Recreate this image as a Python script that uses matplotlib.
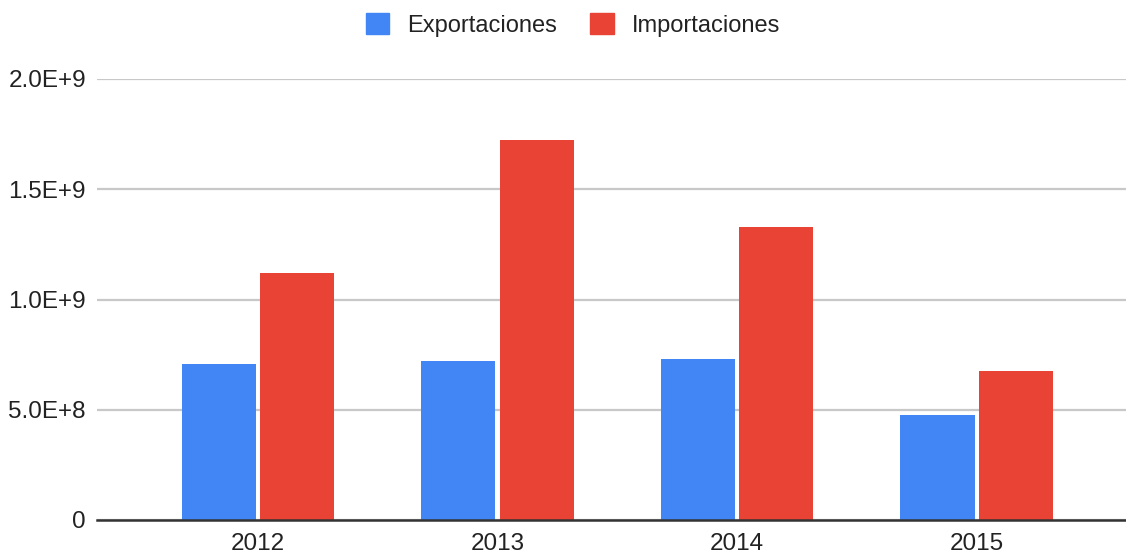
import numpy as np
import matplotlib.pyplot as plt
from matplotlib.patches import Patch

# Data
years = ['2012', '2013', '2014', '2015']
exportaciones = [7.07e8, 7.21e8, 7.30e8, 4.76e8]
importaciones = [1.12e9, 1.723e9, 1.329e9, 6.76e8]
y_ticks = [0, 5e8, 1e9, 1.5e9, 2e9]
y_tick_labels = ['0', '5.0E+8', '1.0E+9', '1.5E+9', '2.0E+9']

blue = '#4285f4'
red = '#e84335'

plt.rcParams['font.family'] = ['Liberation Sans', 'DejaVu Sans']

fig = plt.figure(figsize=(11.26, 5.56), dpi=100)
ax = fig.add_axes([97 / 1126, 1 - 520 / 556, 1 - 97 / 1126, (520 - 79) / 556])

x = np.arange(len(years))
w = 0.309
off = 0.163
ax.bar(x - off, exportaciones, w, color=blue, zorder=3)
ax.bar(x + off, importaciones, w, color=red, zorder=3)

ax.set_ylim(0, 2e9)
ax.set_xlim(-0.672, 3.624)
ax.set_yticks(y_ticks)
ax.set_yticklabels(y_tick_labels)
ax.set_xticks(x)
ax.set_xticklabels(years)
ax.tick_params(axis='both', length=0, labelsize=17.5, colors='#222222')
ax.tick_params(axis='y', pad=8)
ax.tick_params(axis='x', pad=9.5)

ax.grid(axis='y', color='#c8c8c8', linewidth=1.6, zorder=0)
for s in ['top', 'right', 'left']:
    ax.spines[s].set_visible(False)
ax.spines['bottom'].set_color('#333333')
ax.spines['bottom'].set_linewidth(1.8)
ax.spines['bottom'].set_zorder(4)

handles = [Patch(color=blue, label='Exportaciones'),
           Patch(color=red, label='Importaciones')]
fig.legend(handles=handles, loc='center', bbox_to_anchor=(573 / 1126, 1 - 25 / 556),
           ncol=2, frameon=False, fontsize=17, handlelength=1.0, handleheight=1.0,
           handletextpad=0.76, columnspacing=1.4, borderpad=0,
           labelcolor='#222222')

fig.savefig('out.png', dpi=100)
